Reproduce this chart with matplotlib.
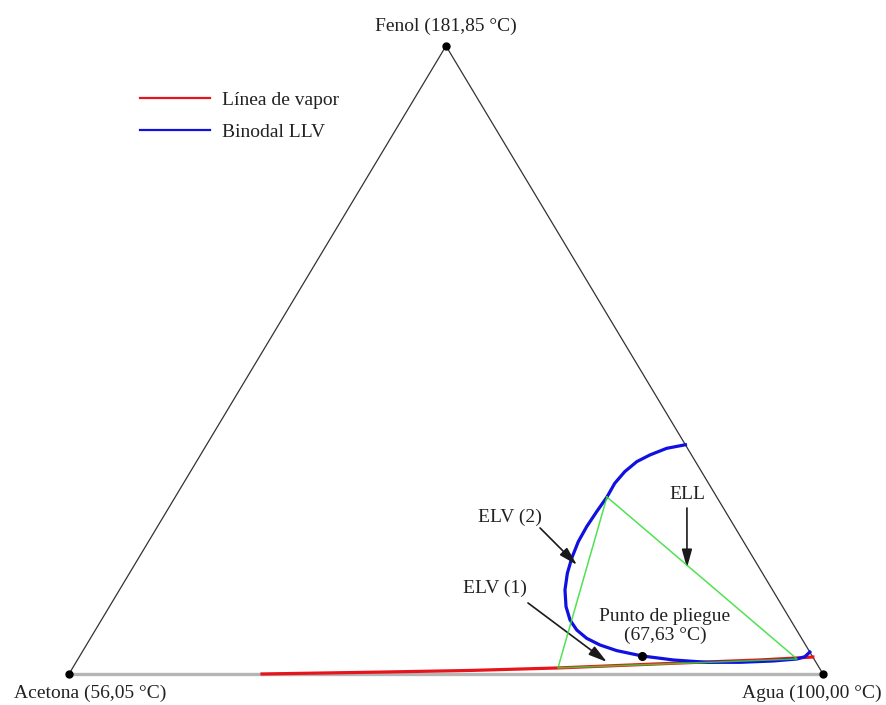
import numpy as np
import matplotlib.pyplot as plt

plt.rcParams['font.family'] = ['Liberation Serif', 'DejaVu Serif']

# compositions as mole fractions (agua, fenol); acetona = 1 - agua - fenol
vertex_names = ['Acetona (56,05 °C)', 'Agua (100,00 °C)', 'Fenol (181,85 °C)']
vertex_agua = [0.0, 1.0, 0.0]
vertex_fenol = [0.0, 0.0, 1.0]

vapor_agua = [0.256, 0.411, 0.529, 0.644, 0.802, 0.905, 0.953, 0.973]
vapor_fenol = [0.000, 0.003, 0.0056, 0.0096, 0.0175, 0.0223, 0.0255, 0.027]

binodal_agua = [0.635, 0.613, 0.596, 0.584, 0.576, 0.572, 0.5726, 0.5706,
                0.5693, 0.5701, 0.5746, 0.5808, 0.5909, 0.6056, 0.6215,
                0.6383, 0.6582, 0.6811, 0.7078, 0.7456, 0.7904, 0.8364,
                0.8806, 0.9237, 0.9536, 0.9623, 0.965]
binodal_fenol = [0.365, 0.3593, 0.3487, 0.3381, 0.3222, 0.3036, 0.2818, 0.2585,
                 0.2346, 0.2107, 0.1842, 0.1603, 0.1338, 0.1072, 0.086,
                 0.0701, 0.0568, 0.0462, 0.0372, 0.0287, 0.0223, 0.0186,
                 0.0186, 0.0207, 0.0239, 0.0276, 0.035]

# three-phase triangle: liquid 1, vapour, liquid 2
llv_agua = [0.5726, 0.6437, 0.9536]
llv_fenol = [0.2818, 0.0096, 0.0239]

pliegue_agua = 0.7456
pliegue_fenol = 0.0287


def to_xy(agua, fenol):
    agua = np.asarray(agua, dtype=float)
    fenol = np.asarray(fenol, dtype=float)
    return agua + 0.5 * fenol, fenol


fig = plt.figure(figsize=(8.87, 7.05), dpi=100)
ax = fig.add_axes([0, 0, 1, 1])
ax.axis('off')
ax.set_xlim(-0.0915, 1.0849)
ax.set_ylim(-0.0494, 1.0732)

txt = '#222222'

# triangle frame
vx, vy = to_xy(vertex_agua, vertex_fenol)
ax.plot([vx[0], vx[1]], [vy[0], vy[1]], color='#b5b5b5', lw=2.4, zorder=1)
ax.plot([vx[0], vx[2], vx[1]], [vy[0], vy[2], vy[1]], color='#333333', lw=0.9, zorder=1)

# vapour line and LLV binodal
x, y = to_xy(vapor_agua, vapor_fenol)
ax.plot(x, y, color='#e8141c', lw=2.3, zorder=2, label='Línea de vapor')
x, y = to_xy(binodal_agua, binodal_fenol)
ax.plot(x, y, color='#1010e0', lw=2.3, zorder=3, label='Binodal LLV',
        solid_joinstyle='round')

# tie lines
x, y = to_xy(llv_agua + llv_agua[:1], llv_fenol + llv_fenol[:1])
ax.plot(x, y, color='#33dd33', lw=1.1, alpha=0.85, zorder=4)

# points
ax.plot(vx, vy, 'o', color='k', ms=5, zorder=5)
px, py = to_xy(pliegue_agua, pliegue_fenol)
ax.plot(px, py, 'o', color='k', ms=5.5, zorder=5)

# vertex labels
offsets = [(15, -14), (-8, -14), (0, 14)]
for name, xx, yy, off in zip(vertex_names, vx, vy, offsets):
    ax.annotate(name, (xx, yy), xytext=off, textcoords='offset points',
                ha='center', va='center', fontsize=14, color=txt)

# annotated regions: (label, text pos, arrow tail, arrow tip)
notes = [
    ('ELV (2)', (0.4599, 0.250), (0.5085, 0.2325), (0.5869, 0.1736)),
    ('ELV (1)', (0.4965, 0.1369), (0.5522, 0.1131), (0.7039, 0.0191)),
    ('ELL', (0.6771, 0.285), (0.6874, 0.2643), (0.7352, 0.1688)),
]
for label, tpos, tail, tip in notes:
    ax.text(*to_xy(*tpos), label, ha='center', va='center', fontsize=14, color=txt)
    ax.annotate('', xy=to_xy(*tip), xytext=to_xy(*tail),
                arrowprops=dict(arrowstyle='-|>,head_length=0.8,head_width=0.22',
                                color='#1a1a1a', lw=1.2, shrinkA=0, shrinkB=0),
                fontsize=14)

ax.text(*to_xy(0.7523, 0.0764), 'Punto de pliegue\n(67,63 °C)', ha='center',
        va='center', fontsize=14, color=txt, linespacing=1.15)

leg = ax.legend(loc='upper left', bbox_to_anchor=(140 / 887, 1 - 91 / 705),
                bbox_transform=fig.transFigure, frameon=False, fontsize=14,
                handlelength=3.6, handletextpad=0.6, labelspacing=0.75,
                borderpad=0, borderaxespad=0)
for t in leg.get_texts():
    t.set_color(txt)
for h in leg.get_lines():
    h.set_linewidth(1.6)

fig.savefig('out.png', dpi=100)
